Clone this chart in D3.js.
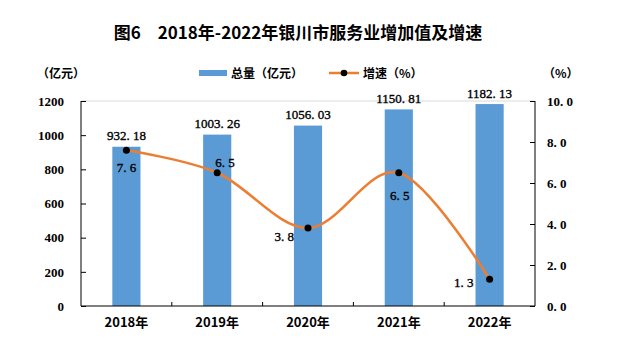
<!DOCTYPE html>
<html>
<head>
<meta charset="utf-8">
<script src="https://cdn.jsdelivr.net/npm/d3@7"></script>
<style>
  body { margin: 0; background: #fff; }
  svg { display: block; }
</style>
</head>
<body>
<script>
// Data
const years = ['2018年', '2019年', '2020年', '2021年', '2022年'];
const totals = [932.18, 1003.26, 1056.03, 1150.81, 1182.13];
const growth = [7.6, 6.5, 3.8, 6.5, 1.3];
const leftTicks = [0, 200, 400, 600, 800, 1000, 1200];
const rightTicks = [0, 2, 4, 6, 8, 10];

// where each growth label sits relative to its marker
const growthLabelPos = [
    { dx: 0, dy: 22, anchor: 'middle' },
    { dx: -2, dy: -6, anchor: 'start' },
    { dx: -14, dy: 13, anchor: 'end' },
    { dx: 1, dy: 27, anchor: 'middle' },
    { dx: -16, dy: 8, anchor: 'end' }
];

const width = 624, height = 354;
const plotL = 81, plotR = 535, plotT = 101, plotB = 306;

const blue = '#5B9BD5', orange = '#ED7D31';
const cjk = "'Noto Sans CJK SC', 'Noto Sans', sans-serif";
const num = "'Liberation Serif', 'DejaVu Serif', serif";

const svg = d3.select('body').append('svg')
    .attr('width', width)
    .attr('height', height);

const x = d3.scaleBand().domain(years).range([plotL, plotR]);
const yL = d3.scaleLinear().domain([0, 1200]).range([plotB, plotT]);
const yR = d3.scaleLinear().domain([0, 10]).range([plotB, plotT]);
const barW = x.bandwidth() * 0.31;
const cx = d => x(d) + x.bandwidth() / 2;

// Title
svg.append('text')
    .attr('x', 298).attr('y', 39)
    .attr('text-anchor', 'middle')
    .style('font-family', cjk)
    .style('font-weight', 'bold')
    .style('font-size', '17px')
    .text('图6　2018年-2022年银川市服务业增加值及增速');

// unit labels
svg.append('text')
    .attr('x', 37).attr('y', 78)
    .style('font-family', cjk).style('font-weight', 'bold').style('font-size', '12px')
    .text('（亿元）');
svg.append('text')
    .attr('x', 543).attr('y', 78)
    .style('font-family', cjk).style('font-weight', 'bold').style('font-size', '12px')
    .text('（%）');

// Legend
const legend = svg.append('g');
legend.append('rect')
    .attr('x', 199).attr('y', 70).attr('width', 28).attr('height', 6)
    .attr('fill', blue);
legend.append('text')
    .attr('x', 231).attr('y', 78)
    .style('font-family', cjk).style('font-weight', 'bold').style('font-size', '12px')
    .text('总量（亿元）');
legend.append('line')
    .attr('x1', 329).attr('x2', 359).attr('y1', 73).attr('y2', 73)
    .attr('stroke', orange).attr('stroke-width', 2.5);
legend.append('circle')
    .attr('cx', 344).attr('cy', 73).attr('r', 3.3).attr('fill', '#000');
legend.append('text')
    .attr('x', 363).attr('y', 78)
    .style('font-family', cjk).style('font-weight', 'bold').style('font-size', '12px')
    .text('增速（%）');

// top gridline
svg.append('line')
    .attr('x1', plotL).attr('x2', plotR)
    .attr('y1', yL(1200)).attr('y2', yL(1200))
    .attr('stroke', '#d9d9d9').attr('stroke-width', 1);

// Bars
svg.append('g').selectAll('rect')
    .data(totals)
    .join('rect')
    .attr('x', (d, i) => cx(years[i]) - barW / 2)
    .attr('y', d => yL(d))
    .attr('width', barW)
    .attr('height', d => plotB - yL(d))
    .attr('fill', blue);

// Bar labels
svg.append('g').selectAll('text')
    .data(totals)
    .join('text')
    .attr('x', (d, i) => cx(years[i]))
    .attr('y', d => yL(d) - 6.5)
    .attr('text-anchor', 'middle')
    .style('font-family', num)
    .style('font-size', '13px')
    .attr('stroke', '#000').attr('stroke-width', 0.35)
    .text(d => d3.format('.2f')(d).replace('.', '. '));

// Axes (ticks inside)
const axisL = svg.append('g')
    .attr('transform', `translate(${plotL},0)`)
    .call(d3.axisLeft(yL).tickValues(leftTicks).tickSizeInner(-5).tickSizeOuter(0).tickPadding(17)
        .tickFormat(d3.format('d')));
const axisR = svg.append('g')
    .attr('transform', `translate(${plotR},0)`)
    .call(d3.axisRight(yR).tickValues(rightTicks).tickSizeInner(-5).tickSizeOuter(0).tickPadding(12)
        .tickFormat(d => d3.format('.1f')(d).replace('.', '. ')));
const axisB = svg.append('g')
    .attr('transform', `translate(0,${plotB})`)
    .call(d3.axisBottom(x).tickSize(0).tickPadding(12));

// category boundary ticks on x axis
svg.append('g').selectAll('line')
    .data(years.slice(1))
    .join('line')
    .attr('x1', d => x(d)).attr('x2', d => x(d))
    .attr('y1', plotB).attr('y2', plotB - 4)
    .attr('stroke', '#000');

[axisL, axisR, axisB].forEach(a => {
    a.selectAll('.domain').attr('stroke', '#000');
    a.selectAll('.tick line').attr('stroke', '#000');
    a.selectAll('text')
        .style('font-family', num)
        .style('font-weight', 'bold')
        .style('font-size', '13px')
        .attr('fill', '#000');
});
axisL.select('.domain').attr('d', `M0,${plotT}V${plotB}`);
axisR.select('.domain').attr('d', `M0,${plotT}V${plotB}`);
axisB.select('.domain').attr('d', `M${plotL},0H${plotR}`);
axisB.selectAll('text').style('font-family', cjk).attr('dy', '0.71em');

// Growth line
const line = d3.line()
    .x((d, i) => cx(years[i]))
    .y(d => yR(d))
    .curve(d3.curveCatmullRom.alpha(0));

svg.append('path')
    .datum(growth)
    .attr('d', line)
    .attr('fill', 'none')
    .attr('stroke', orange)
    .attr('stroke-width', 2.5);

svg.append('g').selectAll('circle')
    .data(growth)
    .join('circle')
    .attr('cx', (d, i) => cx(years[i]))
    .attr('cy', d => yR(d))
    .attr('r', 3.5)
    .attr('fill', '#000');

svg.append('g').selectAll('text')
    .data(growth)
    .join('text')
    .attr('x', (d, i) => cx(years[i]) + growthLabelPos[i].dx)
    .attr('y', d => yR(d))
    .attr('dy', (d, i) => growthLabelPos[i].dy)
    .attr('text-anchor', (d, i) => growthLabelPos[i].anchor)
    .style('font-family', num)
    .style('font-size', '13px')
    .attr('stroke', '#000').attr('stroke-width', 0.35)
    .text(d => d3.format('.1f')(d).replace('.', '. '));
</script>
</body>
</html>
